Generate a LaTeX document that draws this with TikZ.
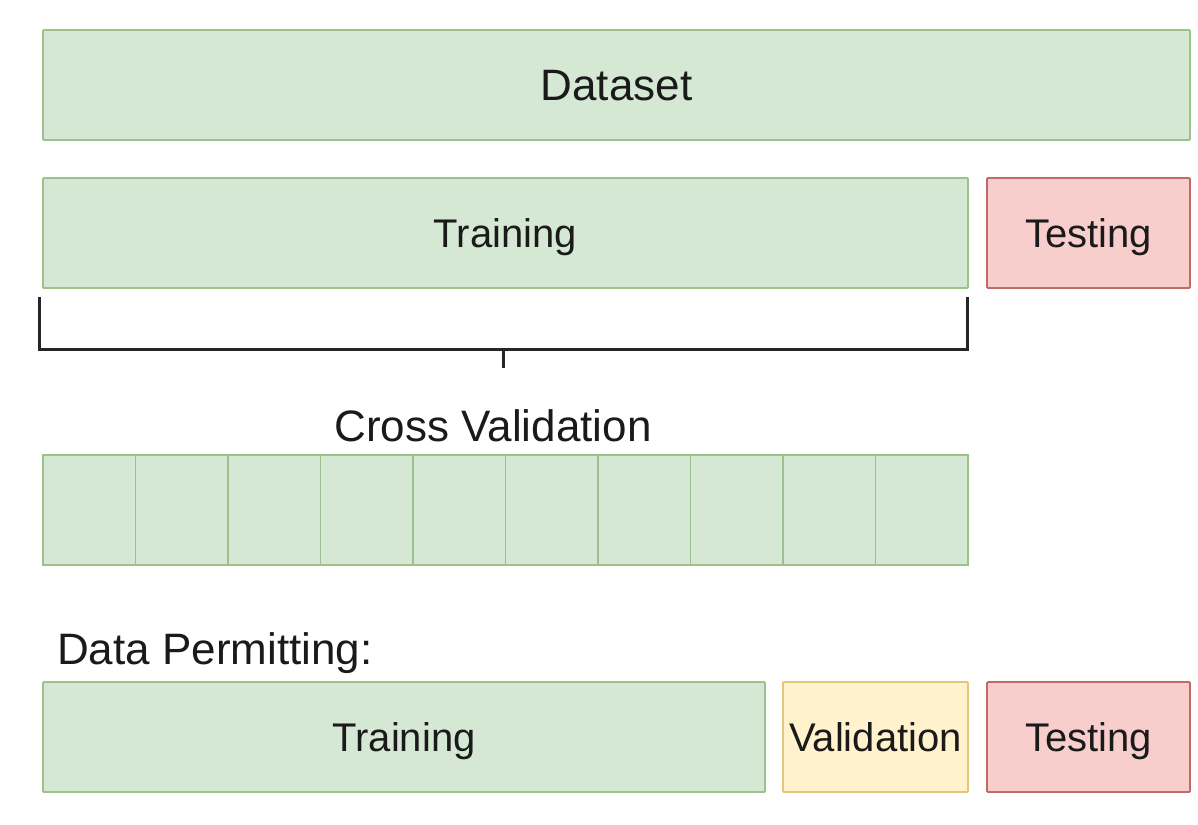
\documentclass[tikz,border=0pt]{standalone}
\usepackage{fontspec}
\setmainfont{Liberation Sans}
\definecolor{gfill}{HTML}{D5E8D4}
\definecolor{gline}{HTML}{9CC18A}
\definecolor{rfill}{HTML}{F8CECC}
\definecolor{rline}{HTML}{C06A66}
\definecolor{yfill}{HTML}{FFF2CC}
\definecolor{yline}{HTML}{E0C878}
\definecolor{txt}{HTML}{1A1A1A}
\begin{document}
\begin{tikzpicture}[x=1pt,y=-1pt,
  box/.style={draw, line width=1.8pt, rounded corners=1pt, anchor=north west, inner sep=0pt, outer sep=0pt, text=txt, font=\fontsize{40}{48}\selectfont, text height=28.6pt, text depth=0pt},
  gbox/.style={box, fill=gfill, draw=gline},
  rbox/.style={box, fill=rfill, draw=rline},
  ybox/.style={box, fill=yfill, draw=yline},
  fold/.style={gbox, rounded corners=0pt, minimum width=92.5pt, minimum height=110pt},
  lbl/.style={inner sep=0pt, text=txt, font=\fontsize{44}{52}\selectfont},
  brk/.style={draw=black!85, line width=3pt}]
\useasboundingbox (0,0) rectangle (1198,824);
\node[gbox, minimum width=1147pt, minimum height=110pt, font=\fontsize{44}{52}\selectfont, text height=31.5pt] (data) at (43,30) {Dataset};
\node[gbox, minimum width=925pt, minimum height=110pt] (train) at (43,178) {Training};
\node[rbox, minimum width=203pt, minimum height=110pt] (test) at (987,178) {Testing};
\coordinate (bl) at (39,297);
\coordinate (br) at (967,297);
\coordinate (bm) at (503,349);
\coordinate (bt) at (503,368);
\draw[brk] (bl) |- (bm) -| (br);
\draw[brk] (bm) -- (bt);
\node[lbl, anchor=base] (cv) at (493,441) {Cross Validation};
\foreach \i in {0,...,9} {
  \node[fold] (f\i) at ({43+92.5*\i},455) {};
}
\node[lbl, anchor=base west] (dp) at (57,664) {Data Permitting:};
\node[gbox, minimum width=722pt, minimum height=110pt] (train2) at (43,682) {Training};
\node[ybox, minimum width=185pt, minimum height=110pt] (val) at (783,682) {Validation};
\node[rbox, minimum width=203pt, minimum height=110pt] (test2) at (987,682) {Testing};
\end{tikzpicture}
\end{document}
